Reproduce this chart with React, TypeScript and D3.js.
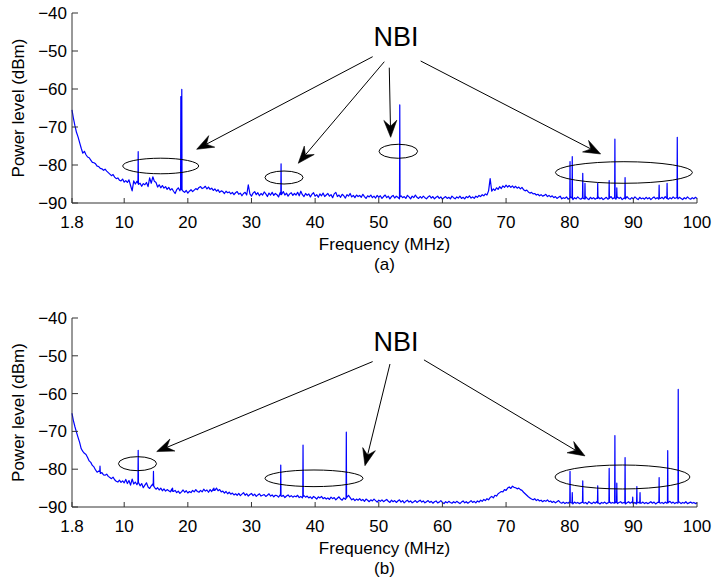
import React from 'react';
import * as d3 from 'd3';

// Frequency grid (MHz) shared by both spectra
const FREQ_MHZ: number[] = [1.8, ...d3.range(2, 100.01, 0.25)];

// (a) measured spectrum, noise floor (dBm)
const LEVEL_A: number[] = [
  -65.5,
  -67.5, -69.6, -71.4, -72.6, -74.1, -75.6, -76.9, -76.4, -77.3, -77.9, -78.1, -78.7, -79.3, -79.4, -79.7, -80.3, -80.4, -80.9, -81.0, -81.4,
  -81.1, -81.6, -82.0, -82.4, -82.8, -82.5, -83.2, -83.6, -83.4, -84.0, -84.2, -83.7, -84.5, -84.1, -84.6, -83.9, -85.4, -86.8, -84.2, -85.0,
  -84.3, -85.1, -84.8, -85.6, -84.9, -85.2, -84.6, -85.7, -83.4, -84.8, -83.1, -84.3, -84.6, -85.8, -85.2, -86.0, -85.4, -86.1, -85.7, -86.4,
  -85.9, -86.6, -86.2, -86.9, -87.5, -86.5, -86.0, -86.8, -86.3, -86.9, -87.2, -86.7, -87.4, -86.9, -86.5, -87.0, -86.6, -86.2, -86.5, -85.9,
  -85.7, -86.2, -86.0, -85.6, -86.3, -85.8, -86.4, -86.1, -86.7, -86.3, -86.9, -86.5, -87.2, -86.8, -87.0, -87.5, -86.9, -87.3, -87.1, -87.6,
  -87.2, -87.8, -87.3, -87.0, -87.7, -87.4, -88.1, -87.5, -87.2, -87.9, -85.2, -87.6, -88.2, -87.4, -87.0, -87.8, -87.3, -88.1, -87.5, -87.9,
  -87.1, -87.6, -88.3, -87.4, -87.9, -87.2, -88.0, -87.5, -87.8, -88.4, -87.3, -87.7, -87.0, -87.9, -87.4, -88.2, -87.6, -87.3, -88.0, -87.5,
  -87.9, -87.2, -88.1, -86.9, -87.8, -88.3, -87.5, -88.0, -87.6, -88.4, -87.7, -87.3, -88.2, -87.8, -88.5, -87.6, -88.1, -87.4, -88.3, -87.9,
  -87.5, -88.2, -87.8, -88.6, -87.6, -87.2, -88.3, -87.9, -88.5, -87.7, -88.1, -88.7, -87.8, -88.2, -87.5, -88.4, -88.0, -88.6, -87.9, -88.3,
  -88.0, -88.5, -87.7, -88.3, -88.8, -88.1, -88.4, -87.9, -88.6, -88.2, -88.7, -88.0, -88.5, -88.1, -88.8, -88.3, -87.9, -88.6, -88.2, -88.9,
  -88.3, -88.0, -88.7, -88.2, -88.5, -88.9, -88.1, -88.6, -88.3, -88.8, -88.0, -88.4, -88.9, -88.2, -88.6, -87.9, -88.5, -88.8, -88.3, -88.7,
  -88.2, -88.6, -88.9, -88.4, -88.1, -88.7, -88.3, -88.9, -88.5, -88.2, -88.8, -88.4, -89.0, -88.6, -88.3, -88.8, -88.5, -88.9, -88.2, -88.6,
  -88.9, -88.4, -88.7, -88.2, -88.8, -88.5, -88.9, -88.3, -88.6, -88.1, -88.7, -88.4, -88.8, -88.2, -88.5, -88.0, -88.3, -87.8, -88.1, -87.6,
  -87.9, -86.8, -83.6, -86.9, -86.3, -86.7, -86.0, -86.4, -85.7, -86.2, -85.5, -85.9, -85.3, -85.8, -85.4, -85.9, -85.5, -86.0, -85.6, -86.1,
  -85.8, -86.3, -85.9, -86.5, -86.8, -86.6, -87.1, -87.4, -87.2, -87.6, -87.5, -87.9, -87.7, -88.1, -87.8, -88.2, -88.0, -87.7, -88.3, -88.0,
  -88.4, -88.1, -88.6, -88.3, -88.8, -88.5, -88.2, -88.9, -88.6, -88.8, -88.4, -89.0, -88.7, -88.5, -89.1, -88.6, -88.9, -88.4, -88.8, -89.0,
  -88.6, -88.9, -88.3, -88.8, -89.1, -88.5, -88.9, -88.6, -89.0, -88.7, -88.4, -88.9, -88.6, -89.1, -88.8, -88.5, -89.0, -88.7, -88.3, -88.9,
  -88.6, -89.0, -88.4, -88.8, -88.5, -89.1, -88.7, -88.9, -88.3, -88.8, -89.0, -88.6, -88.9, -88.4, -88.8, -89.1, -88.5, -88.9, -88.7, -89.0,
  -88.5, -88.9, -88.6, -89.1, -88.7, -88.4, -88.9, -88.6, -89.0, -88.8, -88.5, -88.9, -88.3, -88.8, -89.0, -88.6, -88.9, -88.4, -88.8, -88.6,
  -88.9, -88.5, -88.8, -89.1, -88.6, -88.9, -88.4, -88.8, -89.0, -88.6, -88.9, -88.5, -88.8,
];

// (a) narrowband interference peaks: frequency, peak level, floor level under the peak
const SPIKE_FREQ_A: number[] = [12.2, 18.9, 19.05, 34.65, 53.3, 80.05, 80.4, 82.05, 82.4, 84.4, 86.2, 87.1, 87.4, 88.7, 94.05, 95.3, 96.9];
const SPIKE_LEVEL_A: number[] = [-76.5, -62.0, -60.1, -79.7, -64.2, -79.1, -77.8, -82.2, -84.8, -84.8, -84.1, -73.2, -86.0, -83.3, -85.3, -84.8, -72.7];
const SPIKE_FLOOR_A: number[] = [-84.8, -86.3, -86.5, -87.8, -88.4, -88.6, -88.7, -88.7, -88.9, -88.8, -88.8, -88.7, -88.6, -88.8, -88.7, -88.8, -88.6];

// (b) measured spectrum, noise floor (dBm)
const LEVEL_B: number[] = [
  -65.2,
  -67.0, -68.7, -70.2, -71.6, -72.9, -74.6, -75.3, -75.8, -76.1, -76.9, -77.8, -78.2, -79.0, -79.4, -80.2, -80.8, -80.5, -81.1, -80.9, -81.5,
  -81.6, -81.3, -81.9, -82.2, -82.5, -82.1, -82.8, -83.2, -83.4, -82.9, -83.5, -83.1, -83.6, -82.7, -83.8, -83.0, -84.2, -82.6, -83.9, -83.4,
  -84.1, -83.5, -84.4, -83.8, -84.9, -84.2, -83.6, -84.7, -85.1, -84.4, -83.9, -84.8, -85.3, -84.9, -85.5, -85.0, -85.7, -85.2, -85.8, -85.4,
  -85.7, -86.0, -85.2, -85.9, -85.6, -86.2, -85.8, -86.4, -86.0, -85.5, -86.1, -85.7, -86.3, -85.9, -86.2, -85.6, -86.0, -85.4, -85.9, -86.1,
  -85.6, -86.0, -85.3, -85.8, -85.5, -86.1, -85.4, -85.9, -85.2, -85.6, -85.0, -85.7, -85.4, -86.0, -85.8, -86.3, -85.9, -86.5, -86.1, -86.6,
  -86.3, -86.8, -86.5, -86.9, -86.4, -87.0, -86.6, -86.2, -86.9, -86.5, -87.1, -86.7, -86.4, -87.0, -86.6, -87.2, -86.8, -86.5, -87.1, -86.9,
  -86.7, -87.2, -86.9, -86.5, -87.1, -86.8, -87.3, -86.9, -87.0, -87.4, -86.8, -87.2, -86.9, -87.5, -87.1, -86.8, -87.3, -87.0, -87.4, -87.1,
  -87.3, -86.9, -87.5, -87.2, -87.6, -87.0, -87.4, -87.1, -87.6, -87.3, -87.8, -87.2, -87.5, -87.9, -87.3, -87.6, -87.2, -87.8, -87.5, -87.9,
  -87.6, -88.0, -87.4, -87.8, -87.5, -88.1, -87.7, -87.3, -87.9, -88.2, -87.6, -88.0, -87.4, -86.9, -87.5, -88.1, -87.8, -88.3, -87.9, -88.2,
  -87.8, -88.3, -88.0, -88.5, -87.9, -88.2, -88.6, -88.1, -88.4, -87.9, -88.3, -88.7, -88.2, -88.5, -88.1, -88.6, -88.3, -88.0, -88.5, -88.8,
  -88.2, -88.6, -88.3, -88.8, -88.4, -88.1, -88.7, -88.3, -88.9, -88.5, -88.2, -88.7, -88.4, -88.9, -88.6, -88.3, -88.8, -88.5, -88.2, -88.7,
  -88.4, -88.9, -88.6, -88.3, -88.8, -88.5, -89.0, -88.6, -88.4, -88.9, -88.7, -88.3, -88.8, -89.1, -88.6, -88.9, -88.5, -88.8, -89.0, -88.6,
  -88.9, -88.5, -88.8, -89.1, -88.7, -88.4, -88.9, -88.6, -89.0, -88.7, -88.3, -88.8, -88.5, -88.9, -88.4, -88.7, -88.2, -88.5, -88.0, -88.3,
  -87.8, -88.1, -87.5, -87.2, -87.6, -86.9, -87.1, -86.5, -86.2, -85.9, -86.0, -85.4, -85.6, -85.0, -84.7, -85.1, -84.5, -84.8, -84.9, -85.2,
  -85.0, -85.4, -85.6, -86.1, -86.5, -86.9, -87.3, -87.6, -87.9, -88.1, -87.8, -88.3, -88.0, -88.4, -88.2, -88.6, -88.3, -88.5, -88.1, -88.6,
  -88.4, -88.8, -88.5, -88.9, -88.6, -88.3, -88.8, -89.0, -88.7, -89.1, -88.8, -89.0, -88.6, -88.9, -89.2, -88.7, -89.0, -88.8, -89.1, -88.9,
  -88.7, -89.0, -88.8, -89.2, -88.6, -88.9, -89.1, -88.7, -89.0, -88.6, -88.9, -89.2, -88.8, -89.0, -88.7, -89.1, -88.9, -88.6, -89.0, -88.8,
  -89.0, -88.7, -89.1, -88.8, -88.6, -89.0, -88.8, -89.2, -88.9, -88.6, -89.0, -88.7, -89.1, -88.8, -89.2, -88.9, -88.6, -89.0, -88.7, -89.1,
  -88.8, -89.1, -88.9, -88.6, -89.0, -88.7, -89.2, -88.9, -88.6, -89.0, -88.8, -89.1, -88.7, -89.0, -88.8, -88.5, -89.0, -88.7, -89.1, -88.8,
  -89.0, -88.7, -89.1, -88.8, -89.0, -88.6, -89.1, -88.9, -88.7, -89.0, -88.8, -89.1, -88.9,
];

// (b) narrowband interference peaks: frequency, peak level, floor level under the peak
const SPIKE_FREQ_B: number[] = [6.2, 12.2, 14.6, 17.6, 24.1, 34.6, 38.1, 44.9, 80.05, 80.4, 82.05, 84.4, 86.2, 87.1, 87.4, 88.7, 89.9, 90.55, 91.05, 94.05, 95.4, 97.05];
const SPIKE_LEVEL_B: number[] = [-79.2, -75.0, -80.6, -85.0, -85.0, -78.9, -73.6, -70.2, -80.6, -86.2, -83.1, -84.4, -79.8, -71.1, -83.7, -76.9, -87.4, -84.6, -86.2, -82.2, -75.1, -58.9];
const SPIKE_FLOOR_B: number[] = [-80.6, -83.5, -84.4, -85.8, -85.6, -87.0, -87.2, -87.6, -88.8, -88.9, -88.8, -88.9, -88.8, -88.9, -88.8, -88.9, -88.9, -88.8, -89.0, -88.8, -88.9, -88.7];

const X_TICKS: number[] = [1.8, 10, 20, 30, 40, 50, 60, 70, 80, 90, 100];
const Y_TICKS: number[] = [-40, -50, -60, -70, -80, -90];

// Annotations in data units: ellipse [freq, level, radius MHz, radius dB]
const ELLIPSES_A: number[][] = [[15.74, -80.26, 5.97, 2.05], [35.11, -83.29, 2.99, 1.71], [53.07, -76.39, 3.03, 1.84], [88.52, -81.97, 10.76, 2.84]];
// arrows [fromFreq, fromLevel, toFreq, toLevel]
const ARROWS_A: number[][] = [[49.04, -51.5, 21.39, -75.87], [50.87, -52.82, 37.35, -79.55], [51.65, -54.39, 51.87, -72.71], [56.58, -52.63, 84.86, -77.1]];
const ELLIPSES_B: number[][] = [[12.09, -78.54, 2.99, 1.85], [39.82, -82.41, 7.7, 2.2], [88.29, -82.06, 10.6, 3.17]];
const ARROWS_B: number[][] = [[49.04, -51.53, 15.11, -75.34], [51.76, -52.17, 47.83, -79.07], [57.1, -51.08, 82.4, -76.48]];
const NBI_LABEL_POS: number[] = [52.7, -48.8];
const SPIKE_HALF_WIDTH_MHZ = 0.04;

const FONT = "'Liberation Sans', Arial, Helvetica, sans-serif";

function Arrow({ x1, y1, x2, y2 }: { x1: number; y1: number; x2: number; y2: number }) {
  const dx = x2 - x1, dy = y2 - y1;
  const len = Math.hypot(dx, dy);
  const ux = dx / len, uy = dy / len;
  const px = -uy, py = ux;
  const L = 17, W = 6.5, N = 11;
  const bx = x2 - ux * L, by = y2 - uy * L;
  const nx = x2 - ux * N, ny = y2 - uy * N;
  const head = `M${x2},${y2} L${bx + px * W},${by + py * W} L${nx},${ny} L${bx - px * W},${by - py * W} Z`;
  return (
    <g>
      <line x1={x1} y1={y1} x2={nx} y2={ny} stroke="#000" strokeWidth={1} />
      <path d={head} fill="#000" stroke="#000" strokeWidth={0.6} strokeLinejoin="miter" />
    </g>
  );
}

function Panel({ top, bottom, levels, spikeF, spikeL, spikeB, ellipses, arrows, caption }: any) {
  const x = d3.scaleLinear().domain([1.8, 100]).range([72, 697]);
  const y = d3.scaleLinear().domain([-90, -40]).range([bottom, top]);
  const pts: [number, number][] = FREQ_MHZ.map((f, i) => [f, levels[i]] as [number, number]);
  spikeF.forEach((f: number, i: number) => {
    pts.push([f - SPIKE_HALF_WIDTH_MHZ, spikeB[i]]);
    pts.push([f, spikeL[i]]);
    pts.push([f + SPIKE_HALF_WIDTH_MHZ, spikeB[i]]);
  });
  pts.sort((a, b) => a[0] - b[0]);
  const line = d3.line<[number, number]>().x(d => x(d[0])).y(d => y(d[1]));
  const fmt = (v: number) => (v === 1.8 ? '1.8' : d3.format('d')(v));
  const axisColor = '#333';
  return (
    <g>
      <path d={line(pts) || ''} fill="none" stroke="#0000ff" strokeWidth={1.2} strokeLinejoin="round" />
      {/* axes */}
      <line x1={x(1.8)} y1={y(-40)} x2={x(1.8)} y2={y(-90)} stroke={axisColor} strokeWidth={1} />
      <line x1={x(1.8)} y1={y(-90)} x2={x(100)} y2={y(-90)} stroke={axisColor} strokeWidth={1} />
      {X_TICKS.map(t => (
        <g key={'x' + t}>
          <line x1={x(t)} x2={x(t)} y1={y(-90)} y2={y(-90) - 5} stroke={axisColor} strokeWidth={1} />
          <text x={x(t)} y={y(-90) + 24.5} textAnchor="middle" fontSize={17} fontFamily={FONT} fill="#000">{fmt(t)}</text>
        </g>
      ))}
      {Y_TICKS.map(t => (
        <g key={'y' + t}>
          <line x1={x(1.8)} x2={x(1.8) + 6} y1={y(t)} y2={y(t)} stroke={axisColor} strokeWidth={1} />
          <text x={x(1.8) - 5} y={y(t) + 6} textAnchor="end" fontSize={17} fontFamily={FONT} fill="#000">{d3.format('d')(t)}</text>
        </g>
      ))}
      <text transform={`translate(24,${(top + bottom) / 2}) rotate(-90)`} textAnchor="middle" fontSize={17} fontFamily={FONT} fill="#000">Power level (dBm)</text>
      <text x={384.5} y={bottom + 47} textAnchor="middle" fontSize={17} fontFamily={FONT} fill="#000">Frequency (MHz)</text>
      <text x={384.5} y={bottom + 67} textAnchor="middle" fontSize={17} fontFamily={FONT} fill="#000">{caption}</text>
      {/* annotations */}
      <text x={x(NBI_LABEL_POS[0])} y={y(NBI_LABEL_POS[1])} textAnchor="middle" fontSize={27} fontFamily={FONT} fill="#000">NBI</text>
      {ellipses.map((e: number[], i: number) => (
        <ellipse key={'e' + i} cx={x(e[0])} cy={y(e[1])} rx={x(e[0] + e[2]) - x(e[0])} ry={y(e[1] - e[3]) - y(e[1])} fill="none" stroke="#000" strokeWidth={1} />
      ))}
      {arrows.map((a: number[], i: number) => (
        <Arrow key={'a' + i} x1={x(a[0])} y1={y(a[1])} x2={x(a[2])} y2={y(a[3])} />
      ))}
    </g>
  );
}

export default function App() {
  return (
    <svg width={714} height={582} style={{ position: 'absolute', left: 0, top: 0, background: '#fff' }}>
      <rect width={714} height={582} fill="#fff" />
      <Panel top={13} bottom={203} levels={LEVEL_A} spikeF={SPIKE_FREQ_A} spikeL={SPIKE_LEVEL_A} spikeB={SPIKE_FLOOR_A} ellipses={ELLIPSES_A} arrows={ARROWS_A} caption="(a)" />
      <Panel top={318} bottom={507} levels={LEVEL_B} spikeF={SPIKE_FREQ_B} spikeL={SPIKE_LEVEL_B} spikeB={SPIKE_FLOOR_B} ellipses={ELLIPSES_B} arrows={ARROWS_B} caption="(b)" />
    </svg>
  );
}
